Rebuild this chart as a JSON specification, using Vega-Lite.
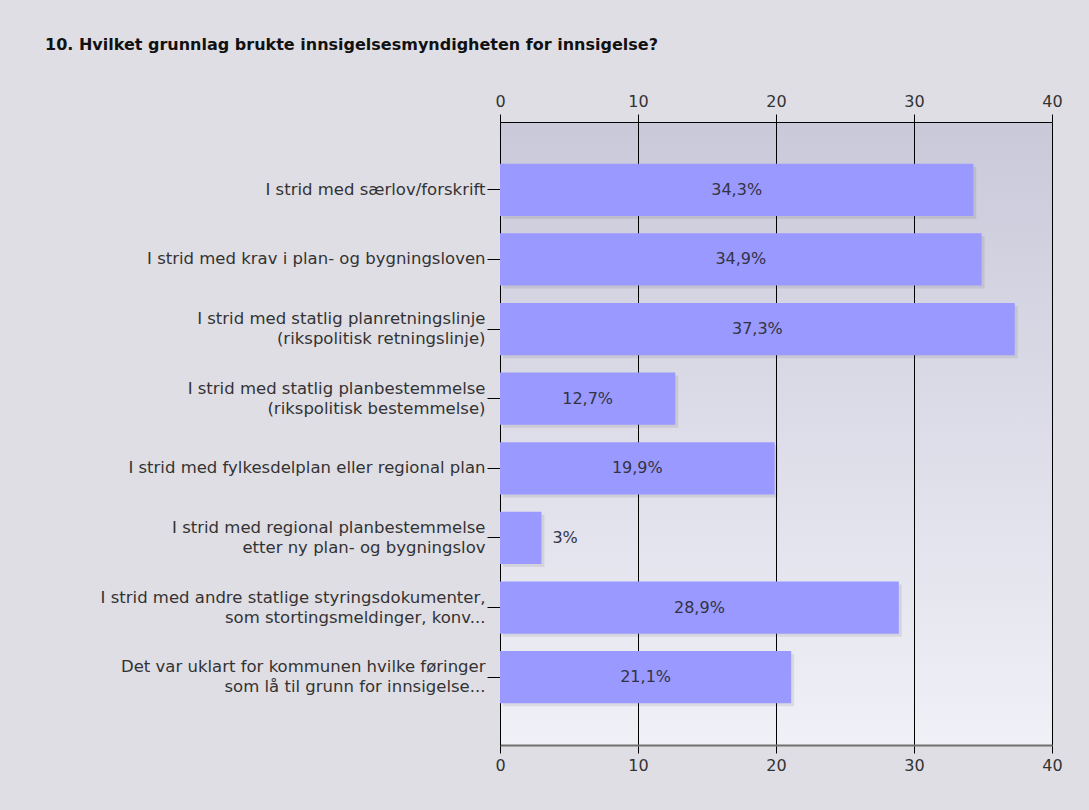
{
  "$schema": "https://vega.github.io/schema/vega-lite/v6.json",
  "autosize": "none",
  "width": 552,
  "height": 623,
  "padding": {"left": 500, "top": 122, "right": 37, "bottom": 65},
  "background": "#dfdee4",
  "title": {
    "text": "10. Hvilket grunnlag brukte innsigelsesmyndigheten for innsigelse?",
    "anchor": "start",
    "frame": "group",
    "dx": -455,
    "font": "DejaVu Sans",
    "fontSize": 16,
    "fontWeight": "bold",
    "color": "#111111",
    "offset": 40
  },
  "config": {
    "font": "DejaVu Sans",
    "view": {
      "stroke": null
    },
    "axis": {
      "labelFont": "DejaVu Sans",
      "labelFontSize": 16,
      "labelColor": "#333333",
      "tickColor": "#000000",
      "domainColor": "#000000"
    }
  },
  "view": {
    "fill": {
      "gradient": "linear",
      "x1": 0, "y1": 0, "x2": 0, "y2": 1,
      "stops": [
        {"offset": 0, "color": "#cac9da"},
        {"offset": 1, "color": "#f0f0f7"}
      ]
    },
    "stroke": null
  },
  "data": {
    "values": [
      {"category": "I strid med særlov/forskrift", "value": 34.3, "text": "34,3%"},
      {"category": "I strid med krav i plan- og bygningsloven", "value": 34.9, "text": "34,9%"},
      {"category": "I strid med statlig planretningslinje|(rikspolitisk retningslinje)", "value": 37.3, "text": "37,3%"},
      {"category": "I strid med statlig planbestemmelse|(rikspolitisk bestemmelse)", "value": 12.7, "text": "12,7%"},
      {"category": "I strid med fylkesdelplan eller regional plan", "value": 19.9, "text": "19,9%"},
      {"category": "I strid med regional planbestemmelse|etter ny plan- og bygningslov", "value": 3, "text": "3%"},
      {"category": "I strid med andre statlige styringsdokumenter,|som stortingsmeldinger, konv...", "value": 28.9, "text": "28,9%"},
      {"category": "Det var uklart for kommunen hvilke føringer|som lå til grunn for innsigelse...", "value": 21.1, "text": "21,1%"}
    ]
  },
  "encoding": {
    "y": {
      "field": "category",
      "type": "nominal",
      "sort": null,
      "scale": {"paddingInner": 0.25, "paddingOuter": 0.6},
      "axis": {
        "title": null,
        "labelExpr": "split(datum.label, '|')",
        "labelLineHeight": 20,
        "labelFontSize": 16.5,
        "labelLimit": 500,
        "tickSize": 13,
        "labelPadding": 2,
        "domainColor": "#000000",
        "labelColor": "#333333",
        "labelOffset": {"condition": {"test": "indexof(datum.value, '|') >= 0", "value": -10}, "value": 0}
      }
    }
  },
  "layer": [
    {
      "mark": {"type": "bar", "color": "#000000", "opacity": 0.08, "xOffset": 3, "yOffset": 3},
      "encoding": {
        "x": {
          "field": "value",
          "type": "quantitative",
          "scale": {"domain": [0, 40], "nice": false},
          "axis": {
            "orient": "bottom",
            "title": null,
            "values": [0, 10, 20, 30, 40],
            "labelFlush": false,
            "grid": false,
            "domainColor": "#707070",
            "domainWidth": 2,
            "tickSize": 8,
            "labelPadding": 4
          }
        }
      }
    },
    {
      "mark": {"type": "bar", "color": "#9999ff"},
      "encoding": {
        "x": {
          "field": "value",
          "type": "quantitative",
          "scale": {"domain": [0, 40], "nice": false},
          "axis": {
            "orient": "top",
            "title": null,
            "values": [0, 10, 20, 30, 40],
            "labelFlush": false,
            "grid": true,
            "gridColor": "#000000",
            "gridOpacity": 1,
            "gridWidth": 1,
            "domainColor": "#000000",
            "tickSize": 8,
            "labelPadding": 5
          }
        }
      }
    },
    {
      "transform": [
        {"filter": "datum.value >= 5"},
        {"calculate": "datum.value / 2", "as": "mid"}
      ],
      "mark": {"type": "text", "fontSize": 16, "color": "#333344", "align": "center", "baseline": "middle"},
      "encoding": {
        "x": {"field": "mid", "type": "quantitative", "axis": null},
        "text": {"field": "text"}
      }
    },
    {
      "transform": [
        {"filter": "datum.value < 5"}
      ],
      "mark": {"type": "text", "fontSize": 16, "color": "#333344", "align": "left", "baseline": "middle", "dx": 11},
      "encoding": {
        "x": {"field": "value", "type": "quantitative", "axis": null},
        "text": {"field": "text"}
      }
    }
  ],
  "resolve": {"axis": {"x": "independent"}}
}
